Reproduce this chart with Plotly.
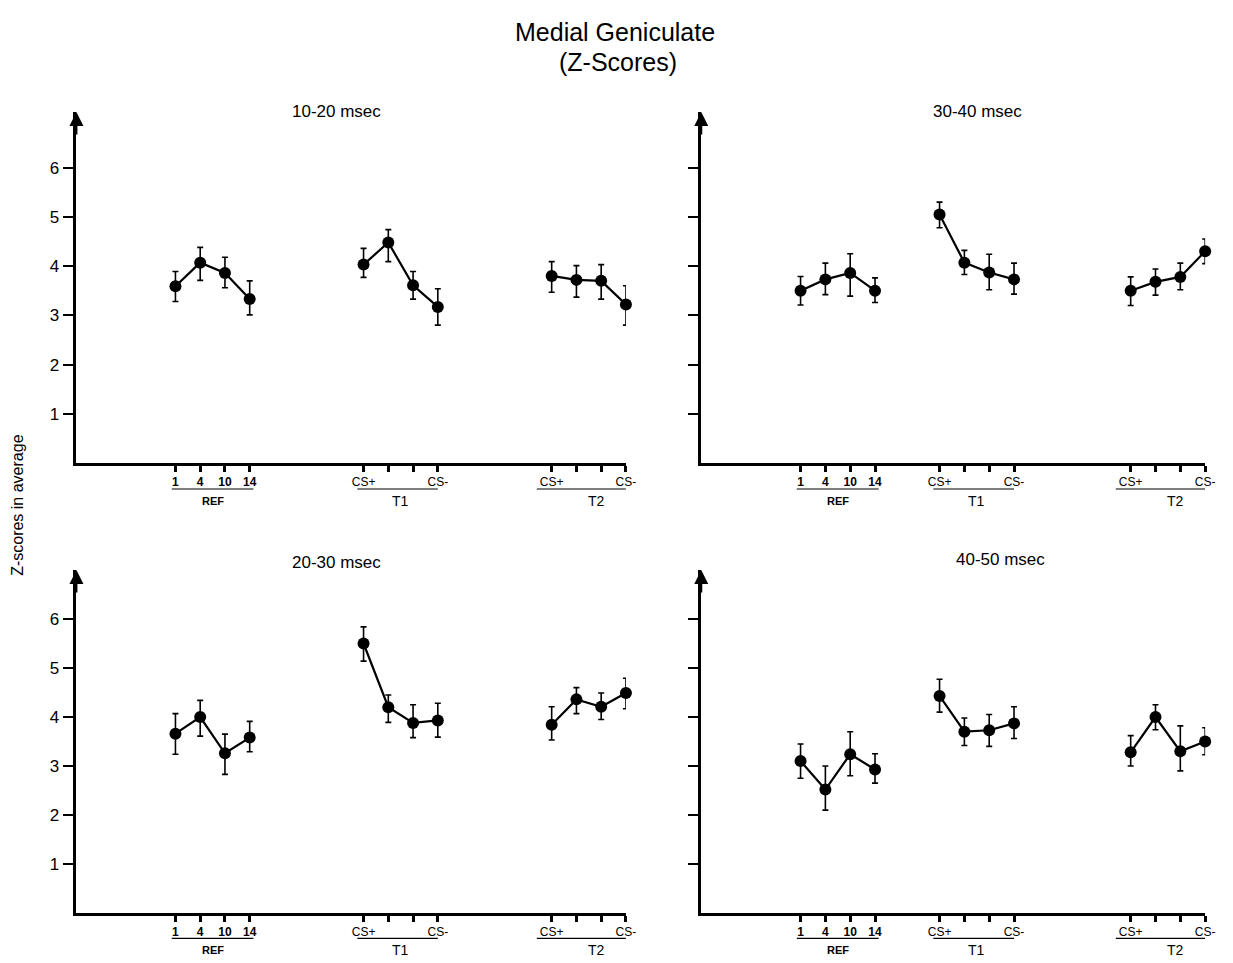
import plotly.graph_objects as go

# ---------------- data ----------------
panel_titles = ["10-20 msec", "30-40 msec", "20-30 msec", "40-50 msec"]
groups = ["REF", "T1", "T2"]
tick_labels = ["<b>1</b>", "<b>4</b>", "<b>10</b>", "<b>14</b>",
               "CS+", "", "", "CS-",
               "CS+", "", "", "CS-"]

# category positions along x axis (left column / right column)
pos_left = [4, 5, 6, 7, 11.6, 12.6, 13.6, 14.6, 19.2, 20.2, 21.2, 22.2]
pos_right = [4, 5, 6, 7, 9.6, 10.6, 11.6, 12.6, 17.3, 18.3, 19.3, 20.3]

# 10-20 msec
z_1020 = [3.59, 4.07, 3.86, 3.33, 4.03, 4.48, 3.61, 3.17, 3.80, 3.72, 3.70, 3.22]
hi_1020 = [3.89, 4.38, 4.18, 3.70, 4.36, 4.74, 3.89, 3.54, 4.09, 4.01, 4.03, 3.60]
lo_1020 = [3.28, 3.71, 3.56, 3.01, 3.77, 4.09, 3.33, 2.80, 3.47, 3.37, 3.33, 2.80]

# 30-40 msec
z_3040 = [3.50, 3.73, 3.86, 3.50, 5.05, 4.07, 3.87, 3.73, 3.50, 3.68, 3.78, 4.30]
hi_3040 = [3.79, 4.06, 4.25, 3.76, 5.30, 4.32, 4.24, 4.06, 3.78, 3.94, 4.06, 4.55]
lo_3040 = [3.21, 3.42, 3.39, 3.26, 4.78, 3.83, 3.52, 3.43, 3.20, 3.41, 3.52, 4.05]

# 20-30 msec
z_2030 = [3.66, 4.00, 3.26, 3.58, 5.50, 4.20, 3.88, 3.93, 3.84, 4.36, 4.21, 4.49]
hi_2030 = [4.07, 4.34, 3.65, 3.91, 5.84, 4.45, 4.25, 4.28, 4.21, 4.60, 4.49, 4.79]
lo_2030 = [3.24, 3.61, 2.83, 3.29, 5.14, 3.89, 3.58, 3.59, 3.53, 4.07, 3.95, 4.17]

# 40-50 msec
z_4050 = [3.10, 2.52, 3.24, 2.93, 4.43, 3.70, 3.73, 3.87, 3.28, 4.00, 3.30, 3.50]
hi_4050 = [3.45, 3.00, 3.70, 3.25, 4.77, 3.98, 4.05, 4.21, 3.62, 4.25, 3.82, 3.78]
lo_4050 = [2.75, 2.10, 2.80, 2.65, 4.10, 3.42, 3.40, 3.56, 3.00, 3.74, 2.90, 3.23]

y_ticks = [1, 2, 3, 4, 5, 6]

# ---------------- figure ----------------
FONT = "Liberation Sans, Arial, Helvetica, sans-serif"
fig = go.Figure()

panels = [
    # (z, hi, lo, positions, axis suffix, xdomain, ydomain, ymax, title xy, show ylabels)
    (z_1020, hi_1020, lo_1020, pos_left, "", [0.0625, 0.5118], [0.5192, 0.8837], 7.13, (0.275, 0.8837), True),
    (z_3040, hi_3040, lo_3040, pos_right, "2", [0.5734, 0.9854], [0.5192, 0.8837], 7.13, (0.799, 0.8837), False),
    (z_2030, hi_2030, lo_2030, pos_left, "3", [0.0625, 0.5118], [0.0519, 0.4081], 7.0, (0.275, 0.4164), True),
    (z_4050, hi_4050, lo_4050, pos_right, "4", [0.5734, 0.9854], [0.0519, 0.4081], 7.0, (0.818, 0.4185), False),
]

annotations = []
shapes = []
layout_axes = {}

for idx, (z, hi, lo, pos, sfx, xd, yd, ymax, tpos, showy) in enumerate(panels):
    xref = "x" + sfx
    yref = "y" + sfx
    for g in range(3):
        sl = slice(g * 4, g * 4 + 4)
        zz = z[sl]
        up = [h - v for h, v in zip(hi[sl], zz)]
        dn = [v - l for v, l in zip(zz, lo[sl])]
        fig.add_trace(go.Scatter(
            x=pos[sl], y=zz, xaxis=xref, yaxis=yref,
            mode="lines+markers", cliponaxis=False,
            line=dict(color="black", width=2.2),
            marker=dict(color="black", size=12),
            error_y=dict(type="data", symmetric=False, array=up, arrayminus=dn,
                         color="black", thickness=1.6, width=3),
            showlegend=False, hoverinfo="skip",
        ))
    xmax = pos[-1]
    layout_axes["xaxis" + sfx] = dict(
        domain=xd, range=[0, xmax], anchor=yref, showgrid=False, zeroline=False,
        showline=True, linecolor="black", linewidth=2.5,
        tickmode="array", tickvals=pos, ticktext=tick_labels,
        ticks="outside", ticklen=6, tickwidth=2.5, tickcolor="black",
        tickfont=dict(family=FONT, size=12, color="black"),
        fixedrange=True,
    )
    layout_axes["yaxis" + sfx] = dict(
        domain=yd, range=[0, ymax], anchor=xref, showgrid=False, zeroline=False,
        showline=True, linecolor="black", linewidth=2.5,
        tickmode="array", tickvals=y_ticks,
        ticktext=[str(t) for t in y_ticks] if showy else ["" for _ in y_ticks],
        ticks="outside", ticklen=11, tickwidth=1.8, tickcolor="black",
        tickfont=dict(family=FONT, size=17, color="black"),
        fixedrange=True,
    )
    # arrow at top of y axis
    annotations.append(dict(
        x=0, y=ymax, xref=xref, yref=yref, text="", showarrow=True,
        ax=0, ay=24, axref="pixel", ayref="pixel",
        arrowhead=2, arrowsize=1.4, arrowwidth=2, arrowcolor="black", standoff=0,
    ))
    # panel title
    annotations.append(dict(
        x=tpos[0], y=tpos[1], xref="paper", yref="paper", text=panel_titles[idx],
        showarrow=False, xanchor="center", yanchor="middle",
        font=dict(family=FONT, size=17, color="black"),
    ))
    # group underlines and labels
    gx = [(pos[0] - 0.15, pos[3] + 0.15), (pos[4] - 0.25, pos[7]), (pos[8] - 0.6, pos[11])]
    label_fonts = [dict(family=FONT, size=11, color="black"),
                   dict(family=FONT, size=14, color="black"),
                   dict(family=FONT, size=14, color="black")]
    for g in range(3):
        x0, x1 = gx[g]
        shapes.append(dict(type="line", xref=xref, yref=yref + " domain",
                           x0=x0, x1=x1, y0=-0.074, y1=-0.074,
                           line=dict(color="black", width=1.2)))
        cx = (pos[g * 4 + 1] + pos[g * 4 + 2]) / 2 + (0.3 if g == 2 else 0)
        annotations.append(dict(
            x=cx, y=-0.108, xref=xref, yref=yref + " domain",
            text=("<b>%s</b>" % groups[g]) if g == 0 else groups[g],
            showarrow=False, xanchor="center", yanchor="middle",
            font=label_fonts[g],
        ))

# main title
annotations.append(dict(x=0.503, y=0.9668, xref="paper", yref="paper",
                        text="Medial Geniculate", showarrow=False,
                        xanchor="center", yanchor="middle",
                        font=dict(family=FONT, size=25, color="black")))
annotations.append(dict(x=0.505, y=0.9356, xref="paper", yref="paper",
                        text="(Z-Scores)", showarrow=False,
                        xanchor="center", yanchor="middle",
                        font=dict(family=FONT, size=25, color="black")))
# y axis title
annotations.append(dict(x=0.0146, y=0.4756, xref="paper", yref="paper",
                        text="Z-scores in average", showarrow=False, textangle=-90,
                        xanchor="center", yanchor="middle",
                        font=dict(family=FONT, size=16, color="black")))

fig.update_layout(
    width=1233, height=963,
    margin=dict(l=0, r=0, t=0, b=0),
    paper_bgcolor="white", plot_bgcolor="white",
    showlegend=False,
    annotations=annotations, shapes=shapes,
    **layout_axes,
)

fig.write_html("out.html", config={"displayModeBar": False},
               post_script="document.body.style.margin='0px';document.body.style.overflow='hidden';")
